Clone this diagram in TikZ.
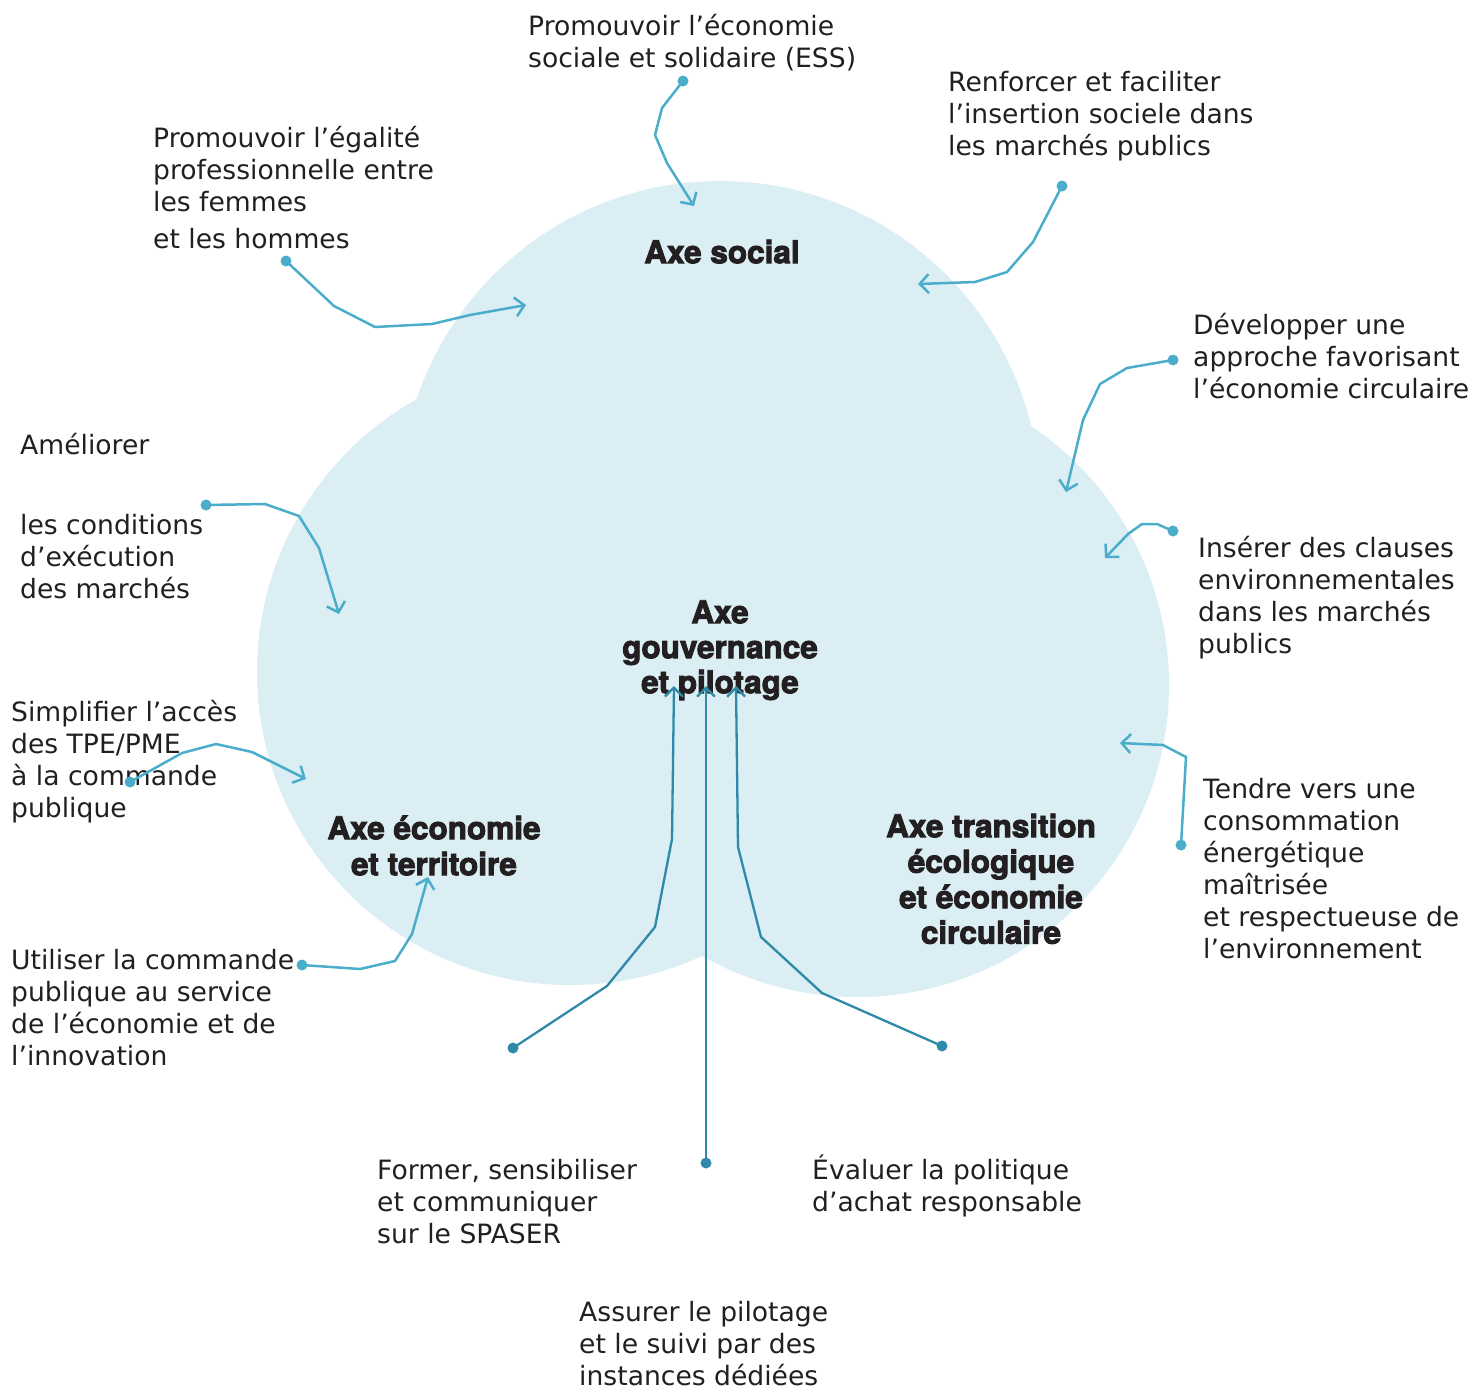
\documentclass[tikz,border=0pt]{standalone}
\usepackage{fontspec}
\setmainfont{DejaVu Sans}
\newfontfamily\axefont{TeX Gyre Heros}[BoldFeatures={FakeBold=3}]
\usetikzlibrary{arrows.meta}
\definecolor{cloudc}{RGB}{218,238,243}
\definecolor{lnk}{RGB}{74,173,201}
\definecolor{dlnk}{RGB}{46,138,168}
\definecolor{txt}{RGB}{35,31,32}
\newcommand\fl{\rule{0pt}{26pt}}
\newcommand\fb{\rule{0pt}{25pt}}
\tikzset{
  lbl/.style={anchor=north west, inner sep=0pt, align=left, text=txt,
    font=\fontsize{26.6}{32}\selectfont},
  axe/.style={anchor=north, inner sep=0pt, align=center, text=txt,
    font=\axefont\bfseries\fontsize{31.5}{35.5}\selectfont},
  dotL/.style={circle, fill=lnk, inner sep=0pt, minimum size=11pt},
  dotD/.style={circle, fill=dlnk, inner sep=0pt, minimum size=11pt},
  conL/.style={draw=lnk, line width=2.5pt, line join=round,
    -{Straight Barb[length=9pt,width=19pt]}},
  conD/.style={draw=dlnk, line width=2.3pt, line join=round,
    -{Straight Barb[length=9pt,width=18pt]}},
}
\begin{document}
\begin{tikzpicture}[x=1pt,y=-1pt]
\useasboundingbox (0,0) rectangle (1479,1393);
% cloud
\fill[cloudc] (720,501) circle[radius=320pt];
\fill[cloudc] (570,672) circle[radius=313pt];
\fill[cloudc] (857,685) circle[radius=312pt];

% axis labels
\node[axe] (axs) at (722,238) {\fb Axe social};
\node[axe, font=\axefont\bfseries\fontsize{31.5}{35}\selectfont] (axg) at (720,598) {\fb Axe\\gouvernance\\et pilotage};
\node[axe, font=\axefont\bfseries\fontsize{31.5}{36}\selectfont] (axe) at (434,814) {\fb Axe économie\\et territoire};
\node[axe] (axt) at (991,812) {\fb Axe transition\\écologique\\et économie\\circulaire};

% texts
\node[lbl] (l1) at (528,9) {\fl Promouvoir l’économie\\sociale et solidaire (ESS)};
\node[lbl] (l2) at (153,121) {\fl Promouvoir l’égalité\\professionnelle entre\\les femmes\\[5pt]et les hommes};
\node[lbl] (l3) at (948,65) {\fl Renforcer et faciliter\\l’insertion sociele dans\\les marchés publics};
\node[lbl] (l4) at (1193,308) {\fl Développer une\\approche favorisant\\l’économie circulaire};
\node[lbl] (l5) at (1198,531) {\fl Insérer des clauses\\environnementales\\dans les marchés\\publics};
\node[lbl] (l6) at (1203,772) {\fl Tendre vers une\\consommation\\énergétique\\maîtrisée\\et respectueuse de\\l’environnement};
\node[lbl] (l7) at (20,428) {\fl Améliorer\\[48pt]les conditions\\d’exécution\\des marchés};
\node[lbl] (l8) at (11,695) {\fl Simplifier l’accès\\des TPE/PME\\à la commande\\publique};
\node[lbl] (l9) at (11,943) {\fl Utiliser la commande\\publique au service\\de l’économie et de\\l’innovation};
\node[lbl] (l10) at (377,1153) {\fl Former, sensibiliser\\et communiquer\\sur le SPASER};
\node[lbl] (l11) at (812,1153) {\fl Évaluer la politique\\d’achat responsable};
\node[lbl] (l12) at (579,1295) {\fl Assurer le pilotage\\et le suivi par des\\instances dédiées};

% dots
\node[dotL] (d1) at (683,81) {};
\node[dotL] (d2) at (286,261) {};
\node[dotL] (d3) at (1062,186) {};
\node[dotL] (d4) at (1173,360) {};
\node[dotL] (d5) at (1173,531) {};
\node[dotL] (d6) at (1181,845) {};
\node[dotL] (d7) at (206,505) {};
\node[dotL] (d8) at (130,782) {};
\node[dotL] (d9) at (302,965) {};
\node[dotD] (d10) at (513,1048) {};
\node[dotD] (d11) at (942,1046) {};
\node[dotD] (d12) at (706,1163) {};

% arrow targets
\coordinate (t1) at (694,206);
\coordinate (t2) at (526,305);
\coordinate (t3) at (918,284);
\coordinate (t4) at (1066,492);
\coordinate (t5) at (1105,558);
\coordinate (t6) at (1120,743);
\coordinate (t7) at (339,614);
\coordinate (t8) at (306,779);
\coordinate (t9) at (428,877);
\coordinate (t10) at (674,686);
\coordinate (t11) at (736,686);
\coordinate (t12) at (706,686);

% connectors
\draw[conL] (d1.center) -- (662,108) -- (655,135) -- (667,163) -- (t1);
\draw[conL] (d2.center) -- (334,306) -- (375,327) -- (432,324) -- (470,315) -- (t2);
\draw[conL] (d3.center) -- (1033,242) -- (1007,272) -- (975,282) -- (t3);
\draw[conL] (d4.center) -- (1127,368) -- (1100,384) -- (1083,420) -- (t4);
\draw[conL] (d5.center) -- (1157,524) -- (1142,524) -- (1128,534) -- (t5);
\draw[conL] (d6.center) -- (1186,757) -- (1163,745) -- (t6);
\draw[conL] (d7.center) -- (265,504) -- (299,516) -- (319,548) -- (t7);
\draw[conL] (d8.center) -- (182,753) -- (216,744) -- (252,752) -- (t8);
\draw[conL] (d9.center) -- (360,969) -- (395,961) -- (412,934) -- (t9);
\draw[conD] (d10.center) -- (607,986) -- (655,927) -- (672,839) -- (t10);
\draw[conD] (d11.center) -- (822,993) -- (761,937) -- (738,847) -- (t11);
\draw[conD] (d12.center) -- (t12);
\end{tikzpicture}
\end{document}
